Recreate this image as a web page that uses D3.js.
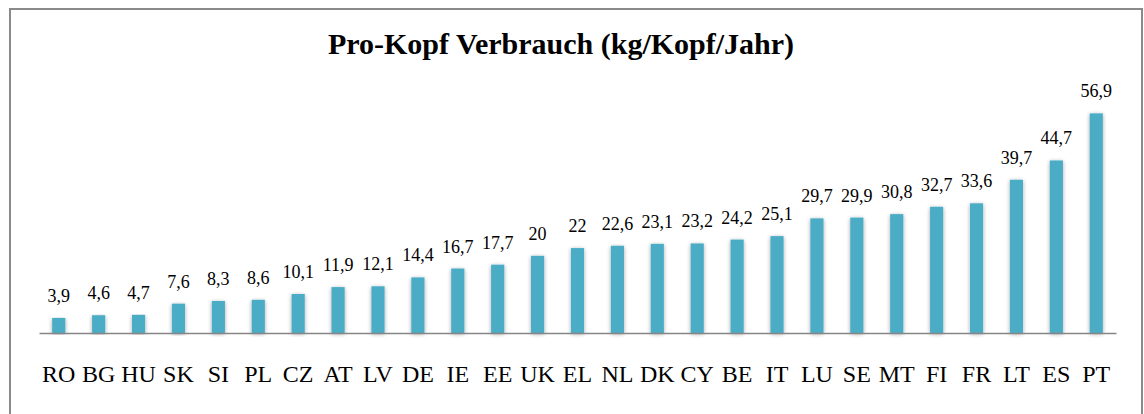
<!DOCTYPE html>
<html>
<head>
<meta charset="utf-8">
<script src="https://cdn.jsdelivr.net/npm/d3@7"></script>
<style>
  body { margin: 0; background: #fff; }
  svg text { font-family: "Liberation Serif", "DejaVu Serif", serif; fill: #000; }
</style>
</head>
<body>
<div id="chart"></div>
<script>
// data
var countries = ["RO", "BG", "HU", "SK", "SI", "PL", "CZ", "AT", "LV", "DE", "IE", "EE", "UK",
                 "EL", "NL", "DK", "CY", "BE", "IT", "LU", "SE", "MT", "FI", "FR", "LT", "ES", "PT"];
var consumption = [3.9, 4.6, 4.7, 7.6, 8.3, 8.6, 10.1, 11.9, 12.1, 14.4, 16.7, 17.7, 20,
                   22, 22.6, 23.1, 23.2, 24.2, 25.1, 29.7, 29.9, 30.8, 32.7, 33.6, 39.7, 44.7, 56.9];
var titleText = "Pro-Kopf Verbrauch (kg/Kopf/Jahr)";

var svgWidth = 1144;
var svgHeight = 414;

var svg = d3.select("#chart")
    .append("svg")
    .attr("width", svgWidth)
    .attr("height", svgHeight);

// soft shadow around the bars
var defs = svg.append("defs");
var f = defs.append("filter").attr("id", "glow")
    .attr("x", "-60%").attr("y", "-10%").attr("width", "220%").attr("height", "120%");
f.append("feGaussianBlur").attr("in", "SourceAlpha").attr("stdDeviation", 2).attr("result", "blur");
f.append("feOffset").attr("in", "blur").attr("dx", 0).attr("dy", 1).attr("result", "off");
f.append("feComponentTransfer").attr("in", "off").attr("result", "soft")
  .append("feFuncA").attr("type", "linear").attr("slope", 0.35);
var merge = f.append("feMerge");
merge.append("feMergeNode").attr("in", "soft");
merge.append("feMergeNode").attr("in", "SourceGraphic");

// outer frame
svg.append("rect")
    .attr("x", 10).attr("y", 9)
    .attr("width", 1132).attr("height", 420)
    .attr("fill", "none")
    .attr("stroke", "#8a8a8a")
    .attr("stroke-width", 2);

var data = countries.map(function(c, i) { return {abbr: c, value: consumption[i]}; });

var xScale = d3.scaleBand()
    .domain(countries)
    .range([39, 1116])
    .paddingInner(0.67)
    .paddingOuter(0.33);

var yScale = d3.scaleLinear()
    .domain([0, 60])
    .range([333, 101.4]);

// bars
svg.append("g").selectAll("rect")
    .data(data)
    .enter()
    .append("rect")
    .attr("x", function(d) { return xScale(d.abbr); })
    .attr("y", function(d) { return yScale(d.value); })
    .attr("width", xScale.bandwidth())
    .attr("height", function(d) { return yScale(0) - yScale(d.value); })
    .attr("fill", "#4bacc6")
    .attr("filter", "url(#glow)");

// x axis
var bottomAxis = d3.axisBottom(xScale).tickSize(0).tickPadding(32);
var xAxis = svg.append("g")
    .attr("transform", "translate(0," + yScale(0) + ")")
    .call(bottomAxis);
xAxis.select(".domain").attr("stroke", "#868686").attr("stroke-width", 1.5);
xAxis.selectAll("text")
    .style("font-size", "24px")
    .style("font-family", "'Liberation Serif', serif")
    .attr("fill", "#000");

// value labels
var fmt = function(v) { return String(v).replace(".", ","); };
svg.append("g").selectAll("text")
    .data(data)
    .enter()
    .append("text")
    .attr("x", function(d) { return xScale(d.abbr) + xScale.bandwidth() / 2; })
    .attr("y", function(d) { return yScale(d.value) - 16; })
    .attr("text-anchor", "middle")
    .style("font-size", "18px")
    .text(function(d) { return fmt(d.value); });

// title
svg.append("text")
    .attr("x", 561)
    .attr("y", 54)
    .attr("text-anchor", "middle")
    .style("font-size", "30px")
    .style("font-weight", "bold")
    .text(titleText);
</script>
</body>
</html>
